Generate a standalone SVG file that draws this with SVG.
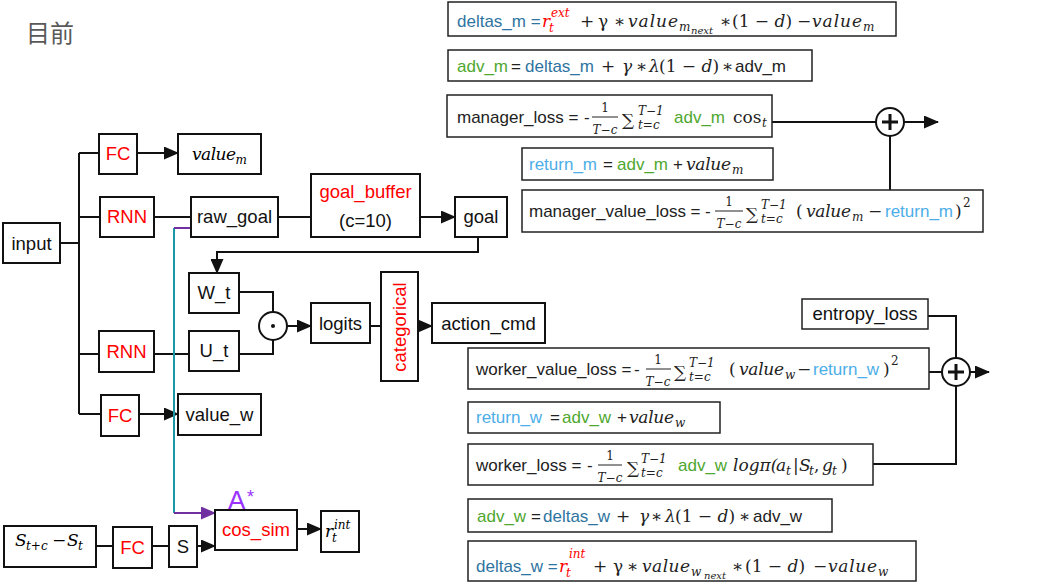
<svg xmlns="http://www.w3.org/2000/svg" width="1038" height="583" viewBox="0 0 1038 583">
<defs>
<marker id="ah" viewBox="0 0 15 13" refX="14" refY="6.5" markerWidth="15" markerHeight="13" markerUnits="userSpaceOnUse" orient="auto"><path d="M0,0 L15,6.5 L0,13 z" fill="#111"/></marker>
<marker id="ahp" viewBox="0 0 15 13" refX="14" refY="6.5" markerWidth="15" markerHeight="13" markerUnits="userSpaceOnUse" orient="auto"><path d="M0,0 L15,6.5 L0,13 z" fill="#7030A0"/></marker>
<style>
.nb{fill:#fff;stroke:#111;stroke-width:2}
.fb{fill:#fff;stroke:#222;stroke-width:1.5}
.n{font-family:"Liberation Sans",Arial,sans-serif;font-size:18.5px;fill:#111;text-anchor:middle}
.s{font-family:"Liberation Sans",Arial,sans-serif;font-size:17px;fill:#222}
.mi{font-family:"DejaVu Serif",serif;font-style:italic;font-size:17px}
.mr{font-family:"DejaVu Serif",serif;font-style:normal;font-size:17px}
.sm{font-size:12px}
.xs{font-size:10px}
.red{fill:#FF0000}
.teal{fill:#2E74A0}
.grn{fill:#4EA72E}
.blu{fill:#4BAEE8}
.c{stroke:#111;stroke-width:2;fill:none}
.fr{stroke:#222;stroke-width:1}
.mid{text-anchor:middle}
</style>
</defs>

<text x="26" y="42" font-family="Noto Sans CJK SC, sans-serif" font-size="24" fill="#595959">目前</text>

<g id="connectors">
<path class="c" d="M60,243 H79 M79,153 V414 M79,153 H99 M79,217 H100 M79,354 H99 M79,414 H101"/>
<path class="c" d="M137,153 H178" marker-end="url(#ah)"/>
<path class="c" d="M154,217 H191 M278,217 H311"/>
<path class="c" d="M420,217 H455" marker-end="url(#ah)"/>
<path class="c" d="M478,237 V252 H217 V273" marker-end="url(#ah)"/>
<path class="c" d="M154,354 H189 M239,292 H273 V312 M239,354 H273 V340"/>
<path class="c" d="M287,326 H311" marker-end="url(#ah)"/>
<path class="c" d="M370,326 H381"/>
<path class="c" d="M418,326 H432" marker-end="url(#ah)"/>
<path class="c" d="M139,414 H178" marker-end="url(#ah)"/>
<path d="M174,228 V513" stroke="#1A98A8" stroke-width="2" fill="none"/>
<path d="M174,228 H191" stroke="#7030A0" stroke-width="2" fill="none"/>
<path d="M174,513 H215" stroke="#7030A0" stroke-width="2" fill="none" marker-end="url(#ahp)"/>
<path class="c" d="M96,546 H113 M152,546 H169"/>
<path class="c" d="M197,546 H215" marker-end="url(#ah)"/>
<path class="c" d="M297,529 H321" marker-end="url(#ah)"/>
<path class="c" d="M772,122 H876 M890,136 V190"/>
<path class="c" d="M904,122 H938" marker-end="url(#ah)"/>
<path class="c" d="M928,316 H956 V358 M929,372 H942 M873,464 H956 V386"/>
<path class="c" d="M970,372 H989" marker-end="url(#ah)"/>
</g>

<g id="input"><rect class="nb" x="3" y="223" width="57" height="40"/><text class="n" x="31.5" y="250">input</text></g>
<g id="fc1"><rect class="nb" x="99" y="134" width="38" height="40"/><text class="n red" x="118" y="160">FC</text></g>
<g id="value_m"><rect class="nb" x="178" y="134" width="83" height="40"/><text x="192" y="160"><tspan class="mi" font-size="18" textLength="44">value</tspan><tspan class="mi sm" dy="4">m</tspan></text></g>
<g id="rnn1"><rect class="nb" x="100" y="197" width="54" height="40"/><text class="n red" x="127" y="223">RNN</text></g>
<g id="raw_goal"><rect class="nb" x="191" y="197" width="87" height="40"/><text class="n" x="234.5" y="223">raw_goal</text></g>
<g id="goal_buffer"><rect class="nb" x="311" y="174" width="109" height="63"/><text class="n red" x="365.5" y="198">goal_buffer</text><text class="n" x="365.5" y="227" fill="#0d1a33">(c=10)</text></g>
<g id="goal"><rect class="nb" x="455" y="197" width="52" height="40"/><text class="n" x="481" y="223">goal</text></g>
<g id="w_t"><rect class="nb" x="189" y="273" width="50" height="40"/><text class="n" x="214" y="299">W_t</text></g>
<g id="u_t"><rect class="nb" x="189" y="331" width="50" height="40"/><text class="n" x="214" y="357">U_t</text></g>
<g id="rnn2"><rect class="nb" x="99" y="331" width="55" height="41"/><text class="n red" x="126.5" y="358">RNN</text></g>
<g id="fc3"><rect class="nb" x="101" y="395" width="38" height="41"/><text class="n red" x="120" y="422">FC</text></g>
<g id="value_w"><rect class="nb" x="178" y="394" width="83" height="41"/><text class="n" x="219.5" y="421">value_w</text></g>
<g id="dot"><circle cx="273" cy="326" r="14" fill="#fff" stroke="#111" stroke-width="2"/><circle cx="273" cy="326" r="2" fill="#111"/></g>
<g id="logits"><rect class="nb" x="311" y="303" width="59" height="40"/><text class="n" x="340.5" y="330">logits</text></g>
<g id="categorical"><rect class="nb" x="381" y="272" width="37" height="109"/><text class="n red" transform="translate(406,327) rotate(-90)" x="0" y="0">categorical</text></g>
<g id="action_cmd"><rect class="nb" x="432" y="303" width="113" height="40"/><text class="n" x="488.5" y="330">action_cmd</text></g>

<g id="s_diff"><rect class="nb" x="4" y="526" width="92" height="41"/>
<text><tspan class="mi" font-size="18" x="15" y="546">S</tspan><tspan class="mi sm" x="26" y="550">t+c</tspan><tspan class="mr" x="52" y="546">−</tspan><tspan class="mi" font-size="18" x="67" y="546">S</tspan><tspan class="mi sm" x="78" y="550">t</tspan></text></g>
<g id="fc_b"><rect class="nb" x="113" y="527" width="39" height="41"/><text class="n red" x="132.5" y="554">FC</text></g>
<g id="s"><rect class="nb" x="169" y="526" width="28" height="41"/><text class="n" x="183" y="553">S</text></g>
<g id="cos_sim"><rect class="nb" x="215" y="510" width="82" height="40"/><text class="n red" x="256" y="536">cos_sim</text>
<text font-family="Liberation Sans, Arial, sans-serif" fill="#9933FF"><tspan x="228" y="509" font-size="26">A</tspan><tspan x="247" y="503" font-size="18">*</tspan></text></g>
<g id="r_int"><rect class="nb" x="321" y="511" width="38" height="41"/>
<text><tspan class="mi" font-size="18" x="325" y="537">r</tspan><tspan class="mi sm" x="334" y="529">int</tspan><tspan class="mi sm" x="332" y="542">t</tspan></text></g>

<g id="f_deltas_m"><rect class="fb" x="448" y="2" width="448" height="34"/>
<text class="s"><tspan x="457" y="27" class="teal">deltas_m =</tspan><tspan x="542" y="27" class="mi red">r</tspan><tspan x="551" y="17" class="mi red sm">ext</tspan><tspan x="549" y="32" class="mi red sm">t</tspan><tspan x="580" y="27" class="mr">+</tspan><tspan x="598" y="27" class="mr">γ</tspan><tspan x="614" y="27" class="mr">∗</tspan><tspan x="628" y="27" class="mi" textLength="50">value</tspan><tspan x="679" y="31" class="mi sm">m</tspan><tspan x="691" y="34" class="mi xs">next</tspan><tspan x="720" y="27" class="mr">∗</tspan><tspan x="732" y="27" class="mr">(1 − <tspan class="mi">d</tspan>)</tspan><tspan x="797" y="27" class="mr">−</tspan><tspan x="812" y="27" class="mi" textLength="50">value</tspan><tspan x="863" y="31" class="mi sm">m</tspan></text></g>

<g id="f_adv_m"><rect class="fb" x="448" y="50" width="364" height="31"/>
<text class="s"><tspan x="457" y="72" class="grn">adv_m</tspan><tspan x="511" y="72">=</tspan><tspan x="525" y="72" class="teal">deltas_m</tspan><tspan x="601" y="72" class="mr">+</tspan><tspan x="622" y="72" class="mi">γ</tspan><tspan x="636" y="72" class="mr">∗</tspan><tspan x="649" y="72" class="mi">λ</tspan><tspan x="659" y="72" class="mr">(1 − <tspan class="mi">d</tspan>)</tspan><tspan x="722" y="72" class="mr">∗</tspan><tspan x="735" y="72">adv_m</tspan></text></g>

<g id="f_manager_loss"><rect class="fb" x="447" y="95" width="325" height="42"/>
<text class="s"><tspan x="457" y="123">manager_loss =</tspan><tspan x="584" y="123">-</tspan><tspan x="605" y="112" class="mr sm mid">1</tspan><tspan x="605" y="134" class="mi sm mid">T−c</tspan><tspan x="622" y="126" class="mr">∑</tspan><tspan x="638" y="115" class="mi sm">T−1</tspan><tspan x="638" y="129" class="mi sm">t=c</tspan><tspan x="674" y="123" class="grn">adv_m</tspan><tspan x="733" y="123" class="mr">cos</tspan><tspan x="762" y="127" class="mi sm">t</tspan></text>
<line class="fr" x1="592" y1="117" x2="618" y2="117"/></g>

<g id="f_return_m"><rect class="fb" x="522" y="148" width="251" height="32"/>
<text class="s"><tspan x="529" y="170" class="blu">return_m</tspan><tspan x="603" y="170">=</tspan><tspan x="617" y="170" class="grn">adv_m</tspan><tspan x="673" y="170">+</tspan><tspan x="686" y="170" class="mi" textLength="45">value</tspan><tspan x="732" y="174" class="mi sm">m</tspan></text></g>

<g id="f_manager_value_loss"><rect class="fb" x="522" y="190" width="461" height="42"/>
<text class="s"><tspan x="529" y="217">manager_value_loss =</tspan><tspan x="705" y="217">-</tspan><tspan x="729" y="206" class="mr sm mid">1</tspan><tspan x="729" y="228" class="mi sm mid">T−c</tspan><tspan x="746" y="220" class="mr">∑</tspan><tspan x="761" y="209" class="mi sm">T−1</tspan><tspan x="761" y="223" class="mi sm">t=c</tspan><tspan x="796" y="217" class="mr">(</tspan><tspan x="806" y="217" class="mi" textLength="45">value</tspan><tspan x="852" y="221" class="mi sm">m</tspan><tspan x="868" y="217" class="mr">−</tspan><tspan x="885" y="217" class="blu">return_m</tspan><tspan x="955" y="217" class="mr">)</tspan><tspan x="963" y="207" class="mr sm">2</tspan></text>
<line class="fr" x1="715" y1="211" x2="743" y2="211"/></g>

<g id="plus_m"><circle cx="890" cy="122" r="14" fill="#fff" stroke="#111" stroke-width="2"/><path d="M882,122 H898 M890,114 V130" stroke="#111" stroke-width="3"/></g>

<g id="entropy_loss"><rect class="fb" x="802" y="299" width="126" height="30"/><text class="n" x="865" y="320">entropy_loss</text></g>

<g id="f_worker_value_loss"><rect class="fb" x="468" y="348" width="461" height="41"/>
<text class="s"><tspan x="476" y="375">worker_value_loss =</tspan><tspan x="634" y="375">-</tspan><tspan x="658" y="364" class="mr sm mid">1</tspan><tspan x="658" y="386" class="mi sm mid">T−c</tspan><tspan x="674" y="378" class="mr">∑</tspan><tspan x="689" y="367" class="mi sm">T−1</tspan><tspan x="689" y="381" class="mi sm">t=c</tspan><tspan x="729" y="375" class="mr">(</tspan><tspan x="739" y="375" class="mi" textLength="45">value</tspan><tspan x="785" y="379" class="mi sm">w</tspan><tspan x="797" y="375" class="mr">−</tspan><tspan x="813" y="375" class="blu">return_w</tspan><tspan x="883" y="375" class="mr">)</tspan><tspan x="891" y="365" class="mr sm">2</tspan></text>
<line class="fr" x1="646" y1="369" x2="671" y2="369"/></g>

<g id="plus_w"><circle cx="956" cy="372" r="14" fill="#fff" stroke="#111" stroke-width="2"/><path d="M948,372 H964 M956,364 V380" stroke="#111" stroke-width="3"/></g>

<g id="f_return_w"><rect class="fb" x="468" y="402" width="252" height="31"/>
<text class="s"><tspan x="476" y="423" class="blu">return_w</tspan><tspan x="550" y="423">=</tspan><tspan x="562" y="423" class="grn">adv_w</tspan><tspan x="617" y="423">+</tspan><tspan x="629" y="423" class="mi" textLength="45">value</tspan><tspan x="675" y="427" class="mi sm">w</tspan></text></g>

<g id="f_worker_loss"><rect class="fb" x="468" y="444" width="405" height="41"/>
<text class="s"><tspan x="476" y="471">worker_loss =</tspan><tspan x="587" y="471">-</tspan><tspan x="610" y="460" class="mr sm mid">1</tspan><tspan x="610" y="482" class="mi sm mid">T−c</tspan><tspan x="627" y="474" class="mr">∑</tspan><tspan x="641" y="463" class="mi sm">T−1</tspan><tspan x="641" y="477" class="mi sm">t=c</tspan><tspan x="678" y="471" class="grn">adv_w</tspan><tspan x="733" y="471" class="mi">logπ(</tspan><tspan x="776" y="471" class="mi">a</tspan><tspan x="786" y="475" class="mi sm">t</tspan><tspan x="793" y="471" class="mr">|</tspan><tspan x="799" y="471" class="mi">S</tspan><tspan x="809" y="475" class="mi sm">t</tspan><tspan x="814" y="471" class="mr">,</tspan><tspan x="822" y="471" class="mi">g</tspan><tspan x="832" y="475" class="mi sm">t</tspan><tspan x="841" y="471" class="mr">)</tspan></text>
<line class="fr" x1="598" y1="465" x2="622" y2="465"/></g>

<g id="f_adv_w"><rect class="fb" x="468" y="499" width="364" height="33"/>
<text class="s"><tspan x="477" y="522" class="grn">adv_w</tspan><tspan x="531" y="522">=</tspan><tspan x="543" y="522" class="teal">deltas_w</tspan><tspan x="616" y="522" class="mr">+</tspan><tspan x="639" y="522" class="mi">γ</tspan><tspan x="651" y="522" class="mr">∗</tspan><tspan x="665" y="522" class="mi">λ</tspan><tspan x="675" y="522" class="mr">(1 − <tspan class="mi">d</tspan>)</tspan><tspan x="739" y="522" class="mr">∗</tspan><tspan x="753" y="522">adv_w</tspan></text></g>

<g id="f_deltas_w"><rect class="fb" x="468" y="541" width="448" height="40"/>
<text class="s"><tspan x="476" y="572" class="teal">deltas_w =</tspan><tspan x="559" y="572" class="mi red">r</tspan><tspan x="569" y="558" class="mi red sm">int</tspan><tspan x="566" y="577" class="mi red sm">t</tspan><tspan x="593" y="572" class="mr">+</tspan><tspan x="613" y="572" class="mr">γ</tspan><tspan x="627" y="572" class="mr">∗</tspan><tspan x="642" y="572" class="mi" textLength="48">value</tspan><tspan x="691" y="576" class="mi sm">w</tspan><tspan x="704" y="579" class="mi xs">next</tspan><tspan x="732" y="572" class="mr">∗</tspan><tspan x="745" y="572" class="mr">(1 − <tspan class="mi">d</tspan>)</tspan><tspan x="813" y="572" class="mr">−</tspan><tspan x="828" y="572" class="mi" textLength="49">value</tspan><tspan x="878" y="576" class="mi sm">w</tspan></text></g>
</svg>
